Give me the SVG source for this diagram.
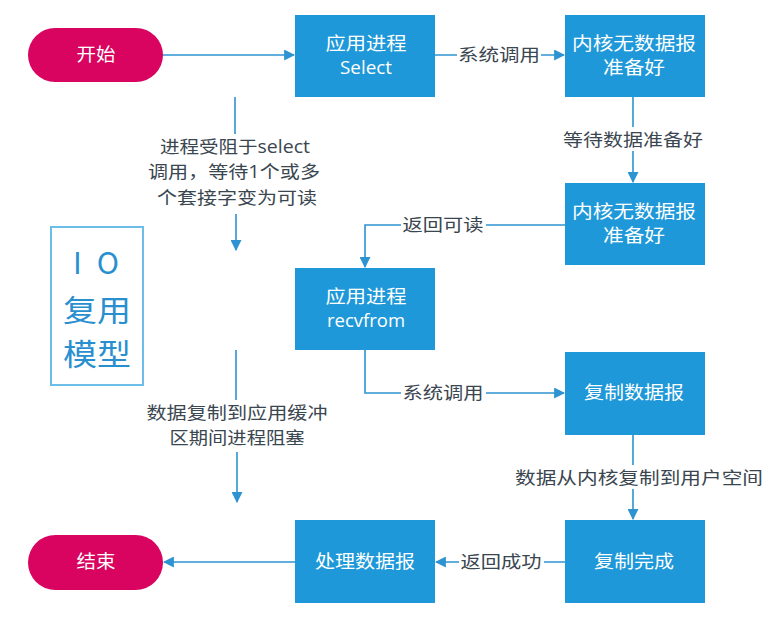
<svg xmlns="http://www.w3.org/2000/svg" width="764" height="617" viewBox="0 0 764 617">
<defs>
<marker id="ah" viewBox="0 0 10 10" refX="9" refY="5" markerWidth="11" markerHeight="11" markerUnits="userSpaceOnUse" orient="auto"><path d="M0,0 L10,5 L0,10 z" fill="#2e93d1"/></marker>
<style>
.box{fill:#1e98d8;}
.pill{fill:#d8045f;}
.bt{fill:#fff;font-family:"Open Sans","Noto Sans CJK SC",sans-serif;font-size:18px;text-anchor:middle;}
.ln{stroke:#2e93d1;stroke-width:1.6;fill:none;}
.lbl{fill:#3a4650;font-family:"Open Sans","Noto Sans CJK SC",sans-serif;font-size:17.5px;text-anchor:middle;}
.bg{fill:#fff;}
.big{fill:#2a8fcf;font-family:"Noto Sans CJK SC",sans-serif;font-size:30px;text-anchor:middle;}
</style>
</defs>
<rect width="764" height="617" fill="#fff"/>
<g id="connectors">
<path class="ln" d="M163,55 H294" marker-end="url(#ah)"/>
<path class="ln" d="M435,55 H564" marker-end="url(#ah)"/>
<path class="ln" d="M633,97 V182" marker-end="url(#ah)"/>
<path class="ln" d="M565,225 H365 V267" marker-end="url(#ah)"/>
<path class="ln" d="M365,350 V393 H564" marker-end="url(#ah)"/>
<path class="ln" d="M633,435 V519" marker-end="url(#ah)"/>
<path class="ln" d="M565,562 H436" marker-end="url(#ah)"/>
<path class="ln" d="M295,562 H164" marker-end="url(#ah)"/>
<path class="ln" d="M235,97 V134"/>
<path class="ln" d="M236,214 V250" marker-end="url(#ah)"/>
<path class="ln" d="M236,350 V400"/>
<path class="ln" d="M237,452 V502" marker-end="url(#ah)"/>
<rect class="bg" x="457" y="43" width="84" height="24"/>
<text class="lbl" x="499" y="61" textLength="82" lengthAdjust="spacingAndGlyphs">系统调用</text>
<rect class="bg" x="561" y="127" width="144" height="24"/>
<text class="lbl" x="633" y="146" textLength="140" lengthAdjust="spacingAndGlyphs">等待数据准备好</text>
<rect class="bg" x="401" y="213" width="85" height="24"/>
<text class="lbl" x="443" y="231" textLength="81" lengthAdjust="spacingAndGlyphs">返回可读</text>
<rect class="bg" x="401" y="381" width="85" height="24"/>
<text class="lbl" x="443" y="399" textLength="81" lengthAdjust="spacingAndGlyphs">系统调用</text>
<rect class="bg" x="512" y="465" width="252" height="24"/>
<text class="lbl" x="639" y="484" textLength="248" lengthAdjust="spacingAndGlyphs">数据从内核复制到用户空间</text>
<rect class="bg" x="459" y="550" width="85" height="24"/>
<text class="lbl" x="501" y="568" textLength="81" lengthAdjust="spacingAndGlyphs">返回成功</text>
<text class="lbl" x="235" y="153" textLength="150" lengthAdjust="spacingAndGlyphs">进程受阻于select</text>
<text class="lbl" x="234" y="178" textLength="172" lengthAdjust="spacingAndGlyphs">调用，等待1个或多</text>
<text class="lbl" x="237" y="204" textLength="160" lengthAdjust="spacingAndGlyphs">个套接字变为可读</text>
<text class="lbl" x="237" y="419" textLength="181" lengthAdjust="spacingAndGlyphs">数据复制到应用缓冲</text>
<text class="lbl" x="237" y="444" textLength="135" lengthAdjust="spacingAndGlyphs">区期间进程阻塞</text>
</g>
<g id="start">
<rect class="pill" x="28" y="28" width="135" height="54" rx="27"/>
<text class="bt" x="96" y="61" textLength="39" lengthAdjust="spacingAndGlyphs">开始</text>
</g>
<g id="select">
<rect class="box" x="295" y="15" width="140" height="82"/>
<text class="bt" x="366" y="50" textLength="81" lengthAdjust="spacingAndGlyphs">应用进程</text>
<text class="bt" x="366" y="74" textLength="52" lengthAdjust="spacingAndGlyphs">Select</text>
</g>
<g id="kernel1">
<rect class="box" x="565" y="15" width="140" height="82"/>
<text class="bt" x="634" y="50" textLength="124" lengthAdjust="spacingAndGlyphs">内核无数据报</text>
<text class="bt" x="634" y="74" textLength="62" lengthAdjust="spacingAndGlyphs">准备好</text>
</g>
<g id="kernel2">
<rect class="box" x="565" y="183" width="140" height="82"/>
<text class="bt" x="634" y="218" textLength="124" lengthAdjust="spacingAndGlyphs">内核无数据报</text>
<text class="bt" x="634" y="242" textLength="62" lengthAdjust="spacingAndGlyphs">准备好</text>
</g>
<g id="recvfrom">
<rect class="box" x="295" y="268" width="140" height="82"/>
<text class="bt" x="366" y="303" textLength="81" lengthAdjust="spacingAndGlyphs">应用进程</text>
<text class="bt" x="366" y="327" textLength="78" lengthAdjust="spacingAndGlyphs">recvfrom</text>
</g>
<g id="copy">
<rect class="box" x="565" y="352" width="140" height="83"/>
<text class="bt" x="634" y="399" textLength="100" lengthAdjust="spacingAndGlyphs">复制数据报</text>
</g>
<g id="done">
<rect class="box" x="565" y="520" width="140" height="83"/>
<text class="bt" x="634" y="568" textLength="80" lengthAdjust="spacingAndGlyphs">复制完成</text>
</g>
<g id="process">
<rect class="box" x="295" y="520" width="140" height="83"/>
<text class="bt" x="365" y="568" textLength="100" lengthAdjust="spacingAndGlyphs">处理数据报</text>
</g>
<g id="end">
<rect class="pill" x="28" y="535" width="135" height="55" rx="27.5"/>
<text class="bt" x="96" y="568" textLength="39" lengthAdjust="spacingAndGlyphs">结束</text>
</g>
<g id="title">
<rect x="51" y="227" width="92" height="158" fill="none" stroke="#6cbde8" stroke-width="2"/>
<text class="big" x="96" y="274" font-size="31" textLength="46" lengthAdjust="spacing" font-family="'Open Sans',sans-serif">IO</text>
<text class="big" x="97" y="321" textLength="68" lengthAdjust="spacingAndGlyphs">复用</text>
<text class="big" x="97" y="365" textLength="68" lengthAdjust="spacingAndGlyphs">模型</text>
</g>
</svg>
